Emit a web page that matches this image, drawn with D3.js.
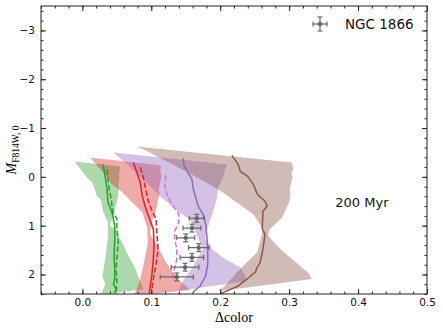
<!doctype html>
<html>
<head>
<meta charset="utf-8">
<script src="https://d3js.org/d3.v7.min.js"></script>
<style>
  body { margin: 0; background: #fff; }
  text { font-family: "DejaVu Sans", sans-serif; }
</style>
</head>
<body>
<svg width="443" height="331"></svg>
<script>
var xTicks = [0, 0.1, 0.2, 0.3, 0.4, 0.5];
var yTicks = [-3, -2, -1, 0, 1, 2];

// shaded bands as [delta colour, magnitude]: right edge going down, left edge coming back up
var greenBand = [[-0.011,-0.316],[0.055,-0.214],[0.053,-0.05],[0.054,0.05],[0.052,0.11],[0.053,0.25],[0.052,0.36],[0.050,0.52],[0.048,0.62],[0.047,0.70],[0.043,0.87],[0.040,0.99],
  [0.050,1.11],[0.055,1.28],[0.060,1.40],[0.062,1.48],[0.069,1.68],[0.074,1.80],[0.077,1.88],[0.079,1.97],[0.083,2.10],[0.086,2.22],[0.088,2.31],
  [0.027,2.41],[0.031,2.28],[0.033,2.20],[0.029,2.03],[0.032,1.79],[0.035,1.48],[0.037,1.23],
  [0.037,0.93],[0.030,0.70],[0.028,0.55],[0.026,0.46],[0.021,0.40],[0.018,0.25],[0.014,0.11],[0.007,0.02],[0.001,-0.09]];
var redBand = [[0.011,-0.398],[0.114,-0.235],[0.113,-0.112],[0.115,-0.02],[0.114,0.051],[0.111,0.255],[0.112,0.36],[0.110,0.459],[0.108,0.622],[0.105,0.765],[0.101,0.908],[0.098,1.173],
  [0.105,1.316],[0.113,1.520],[0.120,1.724],[0.130,1.929],[0.139,2.092],[0.156,2.316],
  [0.074,2.439],[0.079,2.296],[0.084,2.092],[0.088,1.847],[0.092,1.582],[0.095,1.337],
  [0.094,1.031],[0.091,0.908],[0.087,0.724],[0.072,0.520],[0.058,0.316],[0.043,0.153],[0.030,-0.092]];
var purpleBand = [[0.045,-0.5],[0.210,-0.255],[0.206,-0.112],[0.203,0.051],[0.199,0.16],[0.197,0.255],[0.195,0.459],[0.190,0.704],[0.184,0.949],[0.178,1.235],
  [0.188,1.480],[0.207,1.684],[0.229,1.847],[0.236,2.010],[0.238,2.133],
  [0.139,2.337],[0.146,2.133],[0.161,1.827],[0.175,1.480],
  [0.156,0.867],[0.142,0.745],[0.113,0.398],[0.084,-0.010],[0.062,-0.296]];
var brownBand = [[0.079,-0.622],[0.304,-0.296],[0.306,-0.153],[0.303,-0.08],[0.305,0.0],[0.304,0.051],[0.301,0.255],[0.302,0.38],[0.300,0.520],[0.294,0.704],[0.290,0.827],[0.284,0.908],[0.272,1.071],[0.269,1.194],
  [0.287,1.480],[0.304,1.684],[0.316,1.827],[0.328,1.969],[0.333,2.092],
  [0.200,2.337],[0.226,1.929],[0.239,1.745],[0.254,1.541],
  [0.262,1.071],[0.248,0.765],[0.197,0.255],[0.156,-0.071],[0.117,-0.357],[0.098,-0.5]];

// median lines
var greenSolid = [[0.030,-0.255],[0.033,-0.010],[0.036,0.255],[0.037,0.520],[0.043,0.724],[0.047,1.010],[0.047,1.276],[0.046,1.622],[0.047,1.888],[0.047,2.092],[0.045,2.194],[0.049,2.296],[0.047,2.398]];
var greenDashed = [[0.036,-0.153],[0.037,0.051],[0.039,0.255],[0.042,0.459],[0.043,0.602],[0.045,0.765],[0.050,0.847],[0.050,1.010],[0.052,1.337],[0.050,1.684],[0.049,1.888],[0.050,2.153],[0.049,2.378]];
var redSolid = [[0.074,-0.296],[0.079,-0.092],[0.084,0.112],[0.087,0.398],[0.091,0.602],[0.095,0.765],[0.103,1.071],[0.104,1.378],[0.103,1.684],[0.101,1.990],[0.098,2.296],[0.097,2.398]];
var redDashed = [[0.084,-0.194],[0.088,-0.010],[0.092,0.255],[0.095,0.459],[0.100,0.663],[0.107,0.867],[0.108,1.133],[0.110,1.480],[0.107,1.786],[0.103,2.092],[0.101,2.296]];
var violetDashed = [[0.121,-0.031],[0.120,0.214],[0.124,0.418],[0.132,0.602],[0.140,0.765],[0.140,0.929],[0.134,1.112],[0.134,1.276],[0.137,1.480],[0.137,1.684],[0.133,1.929],[0.130,2.133]];
var purpleSolid = [[0.146,-0.378],[0.148,-0.214],[0.153,-0.092],[0.159,0.051],[0.161,0.255],[0.164,0.398],[0.168,0.602],[0.175,0.765],[0.179,0.969],[0.181,1.276],[0.182,1.582],[0.182,1.786],[0.179,2.031],[0.171,2.235],[0.161,2.357]];
var brownSolid = [[0.217,-0.439],[0.226,-0.255],[0.229,-0.112],[0.240,-0.010],[0.248,0.153],[0.254,0.357],[0.265,0.5],[0.268,0.602],[0.262,0.704],[0.261,1.071],[0.265,1.173],[0.262,1.480],[0.258,1.745],[0.254,1.847],[0.251,1.949],[0.239,2.092],[0.226,2.235],[0.210,2.337],[0.200,2.398]];

// NGC 1866 observed spread
var ngcColor = [0.166, 0.159, 0.150, 0.169, 0.159, 0.149, 0.137];
var ngcMag = [0.85, 1.05, 1.25, 1.45, 1.65, 1.85, 2.05];
var ngcColorErr = [0.011, 0.013, 0.013, 0.015, 0.017, 0.020, 0.024];
var ngcMagErr = [0.08, 0.08, 0.08, 0.08, 0.08, 0.08, 0.08];

var svg = d3.select('svg'),
    margin = {top: 6, right: 16, bottom: 37, left: 41},
    width = +svg.attr('width') - margin.left - margin.right,
    height = +svg.attr('height') - margin.top - margin.bottom,
    g = svg.append('g').attr('transform', 'translate(' + margin.left + ',' + margin.top + ')');

var x = d3.scaleLinear().domain([-0.06, 0.5]).range([0, width]);
var y = d3.scaleLinear().domain([-3.5, 2.4]).range([0, height]);

svg.append('defs').append('clipPath').attr('id', 'plot')
  .append('rect').attr('width', width).attr('height', height);

var plot = g.append('g').attr('clip-path', 'url(#plot)');

var line = d3.line().x(function(d) { return x(d[0]); }).y(function(d) { return y(d[1]); });

[[greenBand, '#2ca02c'], [redBand, '#d62728'], [purpleBand, '#9467bd'], [brownBand, '#8c564b']].forEach(function(b) {
  plot.append('path')
    .datum(b[0])
    .attr('d', line.curve(d3.curveLinearClosed))
    .attr('fill', b[1])
    .attr('fill-opacity', 0.4)
    .attr('stroke', 'none');
});
line.curve(d3.curveLinear);

[[greenSolid, '#2ca02c', null], [greenDashed, '#2ca02c', '5.5,2.4'],
 [redSolid, '#d62728', null], [redDashed, '#d62728', '5.5,2.4'],
 [violetDashed, '#da70d6', '5.5,2.4'], [purpleSolid, '#9467bd', null],
 [brownSolid, '#8c564b', null]].forEach(function(l) {
  plot.append('path')
    .datum(l[0])
    .attr('d', line)
    .attr('fill', 'none')
    .attr('stroke', l[1])
    .attr('stroke-width', 1.5)
    .attr('stroke-linejoin', 'round')
    .attr('stroke-dasharray', l[2]);
});

// error bars
var errColor = '#666666';
var eb = plot.selectAll('.eb').data(ngcColor).enter().append('g').attr('class', 'eb');
eb.append('line')
  .attr('x1', function(d, i) { return x(d - ngcColorErr[i]); })
  .attr('x2', function(d, i) { return x(d + ngcColorErr[i]); })
  .attr('y1', function(d, i) { return y(ngcMag[i]); })
  .attr('y2', function(d, i) { return y(ngcMag[i]); });
eb.append('line')
  .attr('x1', function(d) { return x(d); })
  .attr('x2', function(d) { return x(d); })
  .attr('y1', function(d, i) { return y(ngcMag[i] - ngcMagErr[i]); })
  .attr('y2', function(d, i) { return y(ngcMag[i] + ngcMagErr[i]); });
[-1, 1].forEach(function(s) {
  eb.append('line')
    .attr('x1', function(d, i) { return x(d + s * ngcColorErr[i]); })
    .attr('x2', function(d, i) { return x(d + s * ngcColorErr[i]); })
    .attr('y1', function(d, i) { return y(ngcMag[i]) - 2.5; })
    .attr('y2', function(d, i) { return y(ngcMag[i]) + 2.5; });
  eb.append('line')
    .attr('x1', function(d) { return x(d) - 2.5; })
    .attr('x2', function(d) { return x(d) + 2.5; })
    .attr('y1', function(d, i) { return y(ngcMag[i] + s * ngcMagErr[i]); })
    .attr('y2', function(d, i) { return y(ngcMag[i] + s * ngcMagErr[i]); });
});
eb.selectAll('line').attr('stroke', errColor).attr('stroke-width', 1.2);
eb.append('circle')
  .attr('cx', function(d) { return x(d); })
  .attr('cy', function(d, i) { return y(ngcMag[i]); })
  .attr('r', 2.2)
  .attr('fill', errColor);

// axes, ticks pointing inward on every side
var xMinor = d3.range(-0.06, 0.501, 0.02), yMinor = d3.range(-3.4, 2.41, 0.2);
function styleAxis(a) {
  a.select('.domain').remove();
  a.selectAll('line').attr('stroke', '#222');
  a.selectAll('text').attr('font-size', '10.5px').attr('fill', '#111');
}
g.append('g').attr('transform', 'translate(0,' + height + ')')
  .call(d3.axisBottom(x).tickValues(xTicks).tickFormat(d3.format('.1f')).tickSize(-5).tickPadding(5)).call(styleAxis);
g.append('g').attr('transform', 'translate(0,' + height + ')')
  .call(d3.axisBottom(x).tickValues(xMinor).tickFormat('').tickSize(-2.5)).call(styleAxis);
g.append('g')
  .call(d3.axisTop(x).tickValues(xTicks).tickFormat('').tickSize(-5)).call(styleAxis);
g.append('g')
  .call(d3.axisTop(x).tickValues(xMinor).tickFormat('').tickSize(-2.5)).call(styleAxis);
g.append('g')
  .call(d3.axisLeft(y).tickValues(yTicks).tickFormat(d3.format('d')).tickSize(-5).tickPadding(6)).call(styleAxis);
g.append('g')
  .call(d3.axisLeft(y).tickValues(yMinor).tickFormat('').tickSize(-2.5)).call(styleAxis);
g.append('g').attr('transform', 'translate(' + width + ',0)')
  .call(d3.axisRight(y).tickValues(yTicks).tickFormat('').tickSize(-5)).call(styleAxis);
g.append('g').attr('transform', 'translate(' + width + ',0)')
  .call(d3.axisRight(y).tickValues(yMinor).tickFormat('').tickSize(-2.5)).call(styleAxis);

g.append('rect')
  .attr('width', width).attr('height', height)
  .attr('fill', 'none').attr('stroke', '#222').attr('stroke-width', 1);

// axis labels
g.append('text')
  .attr('x', width / 2).attr('y', height + 28)
  .attr('text-anchor', 'middle')
  .style('font-family', '"Liberation Serif", serif')
  .attr('font-size', '14px')
  .text('\u0394color');

var yl = svg.append('text')
  .attr('transform', 'translate(16,' + (margin.top + height / 2) + ') rotate(-90)')
  .attr('text-anchor', 'middle')
  .style('font-family', '"Liberation Serif", serif');
yl.append('tspan').attr('font-size', '14px').attr('font-style', 'italic').text('M');
yl.append('tspan').attr('font-size', '9.5px').attr('dy', '3').text('F814W, 0');

// legend
var lg = g.append('g').attr('transform', 'translate(' + (width - 107) + ',18)');
lg.append('line').attr('x1', -7).attr('x2', 7).attr('y1', 0).attr('y2', 0);
lg.append('line').attr('x1', 0).attr('x2', 0).attr('y1', -7).attr('y2', 7);
lg.append('line').attr('x1', -7).attr('x2', -7).attr('y1', -2.5).attr('y2', 2.5);
lg.append('line').attr('x1', 7).attr('x2', 7).attr('y1', -2.5).attr('y2', 2.5);
lg.append('line').attr('x1', -2.5).attr('x2', 2.5).attr('y1', -7).attr('y2', -7);
lg.append('line').attr('x1', -2.5).attr('x2', 2.5).attr('y1', 7).attr('y2', 7);
lg.selectAll('line').attr('stroke', errColor).attr('stroke-width', 1.2);
lg.append('circle').attr('r', 2.2).attr('fill', errColor);
lg.append('text').attr('x', 25).attr('y', 5).attr('font-size', '13.5px').attr('fill', '#111').text('NGC 1866');

g.append('text')
  .attr('x', x(0.367)).attr('y', y(0.62))
  .attr('font-size', '13px')
  .attr('fill', '#111')
  .text('200 Myr');
</script>
</body>
</html>
